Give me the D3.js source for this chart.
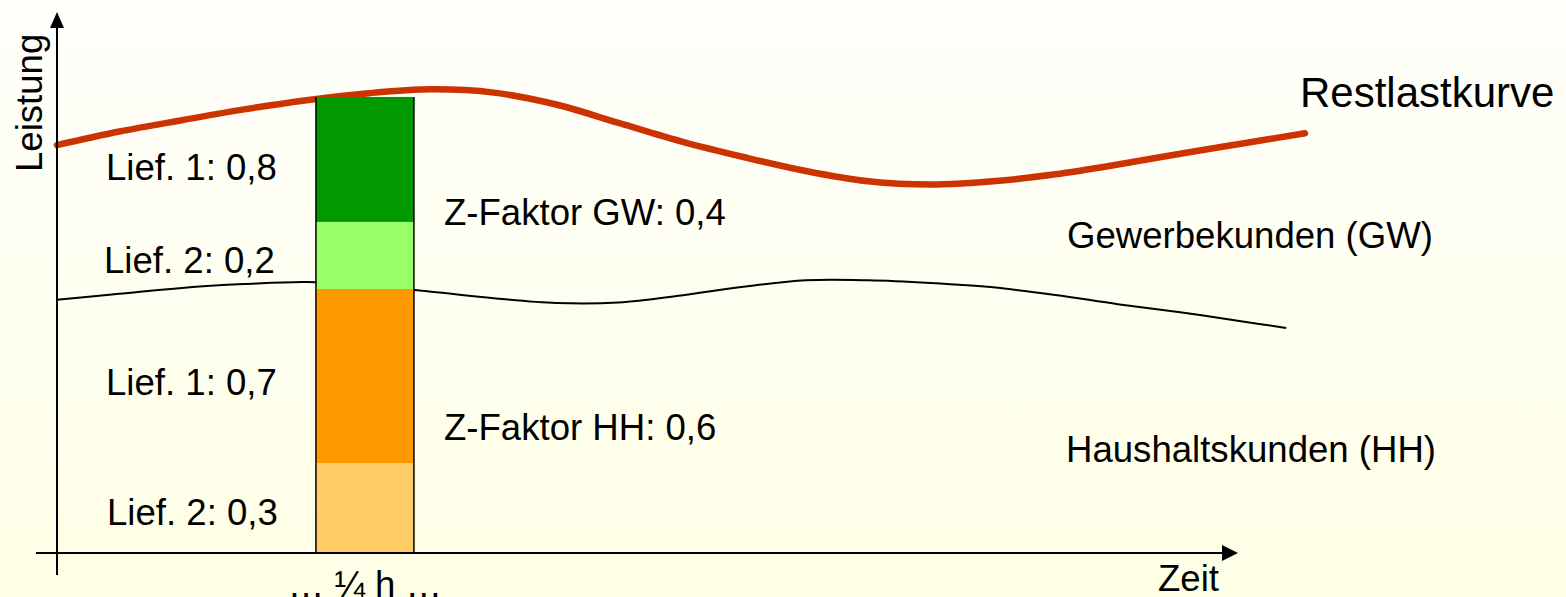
<!DOCTYPE html>
<html>
<head>
<meta charset="utf-8">
<script src="https://cdn.jsdelivr.net/npm/d3@7/dist/d3.min.js"></script>
<style>
  html, body { margin: 0; padding: 0; }
  body { width: 1566px; height: 597px; overflow: hidden; }
  svg { display: block; }
  text { font-family: "Liberation Sans", Arial, sans-serif; fill: #000; }
</style>
</head>
<body>
<svg id="chart" width="1566" height="597"></svg>
<script>
// ---- data ----
const timePoints = [0, 5, 10, 15, 20, 25, 30, 35, 40, 45, 50, 55, 60, 65, 70, 75, 80, 85, 90, 95, 100];
const restlastValues = [75.4, 77.9, 80.0, 82.0, 83.7, 85.0, 85.7, 85.1, 82.9, 79.5, 76.1, 73.2, 70.6, 68.7, 68.1, 68.7, 70.0, 71.8, 73.8, 75.7, 77.6];
const gwTimePoints = [0, 5, 10, 15, 20, 25, 30, 35, 40, 45, 50, 55, 60, 65, 70, 75, 80, 85, 90, 95, 98.5];
const hhBoundaryValues = [46.8, 47.9, 49.0, 49.7, 50.1, 49.4, 48.3, 47.1, 46.2, 46.3, 47.6, 49.2, 50.4, 50.4, 49.9, 49.1, 47.7, 46.0, 44.5, 42.8, 41.6];
const barInterval = [20.75, 28.6];            // the "… ¼ h …" interval
const barSegmentNames = ["HH Lief. 2", "HH Lief. 1", "GW Lief. 2", "GW Lief. 1"];
const barSegmentValues = [16.6, 32.2, 12.4, 23.1];
const barSegmentColors = ["#FFCC66", "#FF9900", "#99FF66", "#009900"];
const segmentLabels = ["Lief. 2: 0,3", "Lief. 1: 0,7", "Lief. 2: 0,2", "Lief. 1: 0,8"];
const zFactorLabels = ["Z-Faktor HH: 0,6", "Z-Faktor GW: 0,4"];
const regionLabels = ["Haushaltskunden (HH)", "Gewerbekunden (GW)"];
const curveLabel = "Restlastkurve";
const xAxisLabel = "Zeit";
const yAxisLabel = "Leistung";
const intervalLabel = "\u2026 \u00BC h \u2026";

// ---- layout ----
const W = 1566, H = 597;
const svg = d3.select("#chart");
const x = d3.scaleLinear().domain([0, 100]).range([57, 1305]);
const y = d3.scaleLinear().domain([0, 100]).range([553, 12]);

// background gradient
const defs = svg.append("defs");
const grad = defs.append("linearGradient").attr("id", "bg").attr("x1", 0).attr("y1", 0).attr("x2", 0).attr("y2", 1);
grad.append("stop").attr("offset", "0%").attr("stop-color", "#FFFFFC");
grad.append("stop").attr("offset", "100%").attr("stop-color", "#FFFFE6");
svg.append("rect").attr("width", W).attr("height", H).attr("fill", "url(#bg)");

// HH / GW boundary curve (behind bar)
const line = d3.line().x(d => x(d[0])).y(d => y(d[1])).curve(d3.curveCatmullRom.alpha(0.5));
svg.append("path")
  .datum(gwTimePoints.map((t, i) => [t, hhBoundaryValues[i]]))
  .attr("d", line).attr("fill", "none").attr("stroke", "#000").attr("stroke-width", 2);

// Restlast curve
svg.append("path")
  .datum(timePoints.map((t, i) => [t, restlastValues[i]]))
  .attr("d", line).attr("fill", "none").attr("stroke", "#CC3300")
  .attr("stroke-width", 6.5).attr("stroke-linecap", "round");

// stacked bar
let cum = 0;
const stacked = barSegmentValues.map((v, i) => { const s = { name: barSegmentNames[i], y0: cum, y1: cum + v, color: barSegmentColors[i] }; cum += v; return s; });
const bx0 = x(barInterval[0]), bx1 = x(barInterval[1]);
svg.append("g").selectAll("rect").data(stacked).join("rect")
  .attr("x", bx0).attr("width", bx1 - bx0)
  .attr("y", d => y(d.y1)).attr("height", d => y(d.y0) - y(d.y1))
  .attr("fill", d => d.color);
[bx0, bx1].forEach(bx => {
  svg.append("line").attr("x1", bx).attr("x2", bx).attr("y1", y(cum)).attr("y2", y(0))
    .attr("stroke", "#000").attr("stroke-width", 1.5);
});

// axes with arrows
const ax = svg.append("g").attr("stroke", "#000").attr("fill", "#000");
const ox = x(0), oy = y(0);
ax.append("line").attr("x1", ox).attr("x2", ox).attr("y1", oy + 22).attr("y2", y(100) + 14).attr("stroke-width", 2);
ax.append("path").attr("stroke", "none")
  .attr("d", `M${ox},${y(100)} L${ox - 7},${y(100) + 16} L${ox + 7},${y(100) + 16} Z`);
const xEnd = 1238;
ax.append("line").attr("x1", ox - 21).attr("x2", xEnd - 14).attr("y1", oy).attr("y2", oy).attr("stroke-width", 2);
ax.append("path").attr("stroke", "none")
  .attr("d", `M${xEnd},${oy} L${xEnd - 16},${oy - 8} L${xEnd - 16},${oy + 8} Z`);

// texts
const fs = 36.6;
function txt(s, tx, ty, opts = {}) {
  const t = svg.append("text").attr("x", tx).attr("y", ty).attr("font-size", opts.size || fs).text(s);
  if (opts.anchor) t.attr("text-anchor", opts.anchor);
  return t;
}
svg.append("text").attr("transform", "translate(42,172) rotate(-90)").attr("font-size", fs).text(yAxisLabel);
txt(xAxisLabel, 1158, 591);
txt(intervalLabel, (bx0 + bx1) / 2, 597, { anchor: "middle" });

const segLabelPos = [[107, 525], [106, 395], [104, 273], [106, 180]];
segmentLabels.forEach((s, i) => txt(s, segLabelPos[i][0], segLabelPos[i][1]));
txt(zFactorLabels[0], 444, 440);
txt(zFactorLabels[1], 444, 225);
txt(regionLabels[0], 1066, 462);
txt(regionLabels[1], 1067, 248);
txt(curveLabel, 1300, 107, { size: 42 });
</script>
</body>
</html>
